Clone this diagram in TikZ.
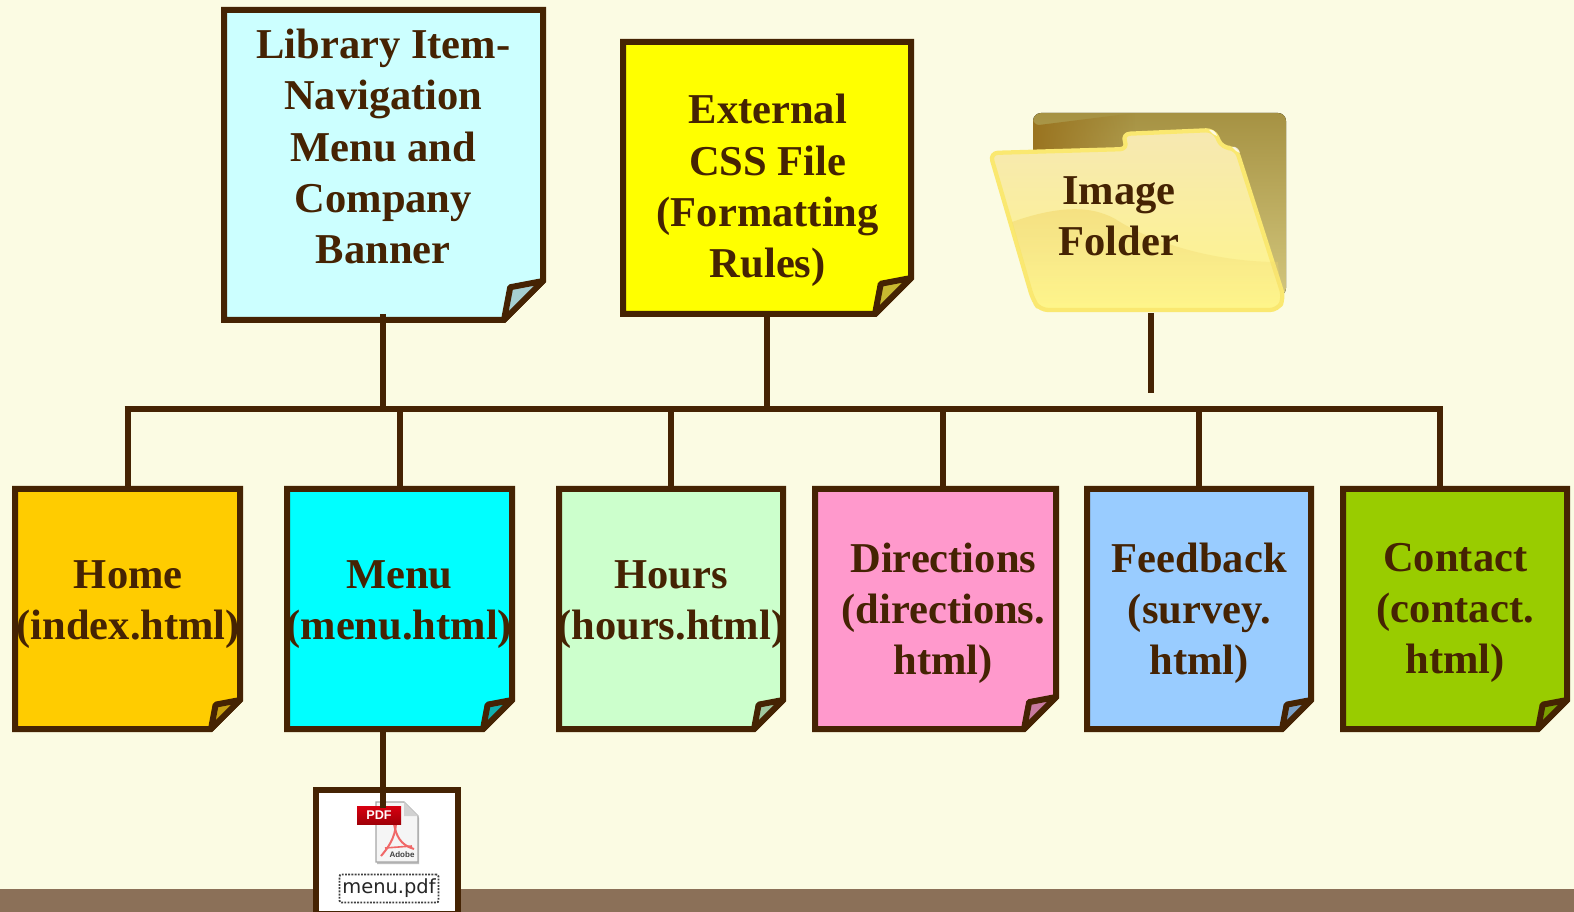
\documentclass[tikz,border=0pt]{standalone}
\usepackage{fontspec}
\setmainfont{Liberation Serif}
\setsansfont{Liberation Sans}
\newfontfamily\iconfont{DejaVu Sans}
\usetikzlibrary{fadings}
\definecolor{ink}{HTML}{452303}
\definecolor{pagebg}{HTML}{FBFBE3}
\definecolor{band}{HTML}{8B7058}
\definecolor{backtop}{HTML}{A69243}
\definecolor{backbot}{HTML}{D2C67C}
\definecolor{backdark}{HTML}{9A7420}
\definecolor{fronttop}{HTML}{F6E8B2}
\definecolor{wavetop}{HTML}{F2DA70}
\definecolor{frontbot}{HTML}{FFF68A}
\definecolor{rim}{HTML}{FAE870}
\definecolor{libfill}{HTML}{CCFFFF}
\definecolor{libfold}{HTML}{A6D0D2}
\definecolor{cssfill}{HTML}{FFFF00}
\definecolor{cssfold}{HTML}{C8B830}
\definecolor{homefill}{HTML}{FFCC00}
\definecolor{homefold}{HTML}{C8A010}
\definecolor{menufill}{HTML}{00FFFF}
\definecolor{menufold}{HTML}{10B0B0}
\definecolor{hoursfill}{HTML}{CCFFCC}
\definecolor{hoursfold}{HTML}{A0C8A0}
\definecolor{dirfill}{HTML}{FF99CC}
\definecolor{dirfold}{HTML}{C87AA0}
\definecolor{feedfill}{HTML}{99CCFF}
\definecolor{feedfold}{HTML}{7AA0C8}
\definecolor{contfill}{HTML}{99CC00}
\definecolor{contfold}{HTML}{7AA000}
\definecolor{pdfred}{HTML}{D80010}
\definecolor{pdfdark}{HTML}{A00008}
\definecolor{pdflogo}{HTML}{F06868}
\newcommand\notebox[8]{% name,x1,y1,x2,y2,fill,foldfill,foldsize
  \node[notearea,minimum width={(#4-#2)*0.75pt},minimum height={(#5-#3)*0.75pt}] (#1) at ({(#2+#4)/2},{(#3+#5)/2}) {};
  \draw[noteline,fill=#6] (#2,#3) -- (#4,#3) -- (#4,{#5-#8}) -- ({#4-#8},#5) -- (#2,#5) -- cycle;
  \draw[noteline,line join=round,fill=#7] (#4,{#5-#8}) -- ({#4-#8},#5) -- ({#4-0.84*#8},{#5-0.84*#8}) -- cycle;
}
\tikzset{
  notearea/.style={inner sep=0pt,outer sep=0pt},
  noteline/.style={draw=ink,line width=4.5pt,line join=miter},
  link/.style={draw=ink,line width=4.5pt},
  notetext/.style={text=ink,align=center,inner sep=0pt,xshift=0.6pt,font=\fontsize{31.9}{38.4}\selectfont\bfseries},
}
\begin{document}
\begin{tikzpicture}[x=0.75pt,y=-0.75pt]
\useasboundingbox (0,0) rectangle (1574,912);
\fill[pagebg] (0,0) rectangle (1574,912);
\fill[band] (0,889) rectangle (1574,912);

% folder
\fill[top color=backtop,bottom color=backbot,rounded corners=6pt] (1033,113) rectangle (1286,296);
\fill[backdark,path fading=east] (1033,119) arc[start angle=180,end angle=90,radius=6] -- (1135,113) -- (1135,160) -- (1033,160) -- cycle;
\draw[rim,line width=3.2pt,top color=fronttop,bottom color=frontbot,rounded corners=6pt,line join=round]
  (990,153) -- (1128,149) -- (1122,134) -- (1214,130) -- (1222,148) -- (1236,148) -- (1284,298)
  -- (1278,310) -- (1040,310) -- (1033,300) -- cycle;
\fill[wavetop,opacity=0.65,path fading=south] (1012,222) .. controls (1060,205) and (1095,205) .. (1120,222)
  .. controls (1160,246) and (1220,262) .. (1278,262) -- (1281,298) -- (1277,308) -- (1041,308) -- (1035,299) -- cycle;
\fill[white,opacity=0.8] (1209,130) .. controls (1213,129) and (1216,132) .. (1217,136) -- (1213,134) -- cycle;
\fill[white,opacity=0.8] (1232,147) .. controls (1236,146) and (1239,149) .. (1240,153) -- (1236,151) -- cycle;
\node[notetext] (foldertext) at (1118,216) {Image\\Folder};
\coordinate (foldertop) at (1151,313);
\coordinate (folderend) at (1151,393);

% notes
\notebox{lib}{224}{10}{543}{320}{libfill}{libfold}{39}
\notebox{css}{623}{42}{911}{314}{cssfill}{cssfold}{36}
\notebox{home}{15}{489}{240}{729}{homefill}{homefold}{29}
\notebox{menu}{287}{489}{512}{729}{menufill}{menufold}{29}
\notebox{hours}{559}{489}{783}{729}{hoursfill}{hoursfold}{29}
\notebox{dir}{815}{489}{1056}{729}{dirfill}{dirfold}{32}
\notebox{feed}{1087}{489}{1311}{729}{feedfill}{feedfold}{29}
\notebox{cont}{1343}{489}{1567}{729}{contfill}{contfold}{29}

\node[notetext] (libtext) at (382.5,146.5) {Library Item-\\Navigation\\Menu and\\Company\\Banner};
\node[notetext] (csstext) at (767,190.5) {External\\CSS File\\(Formatting\\Rules)};
\node[notetext] (hometext) at (127.5,605) {Home\\(index.html)};
\node[notetext] (menutext) at (398.5,605) {Menu\\(menu.html)};
\node[notetext] (hourstext) at (670.5,605) {Hours\\(hours.html)};
\node[notetext] (dirtext) at (942.5,613) {Directions\\(directions.\\html)};
\node[notetext] (feedtext) at (1198.5,613) {Feedback\\(survey.\\html)};
\node[notetext] (conttext) at (1454.5,613) {Contact\\(contact.\\html)};

% trunk and connectors
\coordinate (trunkL) at (124.5,409.5);
\coordinate (trunkR) at (1439.5,409.5);
\coordinate (libstub) at (382.5,314);
\coordinate (dirdrop) at (942.5,489);
\coordinate (contdrop) at (1439.5,489);
\coordinate (menuout) at (383,729);
\draw[link] (trunkL) -- (trunkR);
\draw[link] (libstub) -- (libstub|-trunkL);
\draw[link] (css.south) -- (css.south|-trunkL);
\draw[link] (home.north) -- (home.north|-trunkL);
\draw[link] (menu.north) -- (menu.north|-trunkL);
\draw[link] (hours.north) -- (hours.north|-trunkL);
\draw[link] (dirdrop) -- (dirdrop|-trunkL);
\draw[link] (feed.north) -- (feed.north|-trunkL);
\draw[link] (contdrop) -- ([yshift=2.25pt]contdrop|-trunkL);
\draw[link,line width=4.3pt] (foldertop) -- (folderend);

% pdf box
\node[notearea,minimum width={139*0.75pt},minimum height={124*0.75pt}] (pdfbox) at (387,852) {};
\draw[noteline,fill=white] (316,915) -- (316,790) -- (458,790) -- (458,915);
\draw[noteline] (316,914) -- (458,914);
% icon
\fill[black!25] (377,804) -- (405,804) -- (419,818) -- (419,864) -- (377,864) -- cycle;
\draw[black!35,fill=white!96!black,line width=0.8pt] (376,802) -- (404,802) -- (418,816) -- (418,862) -- (376,862) -- cycle;
\fill[black!18] (404,802) -- (418,816) -- (404,816) -- cycle;
\draw[pdflogo,line width=1.5pt] (394,824) .. controls (396,835) and (400,845) .. (414,849);
\draw[pdflogo,line width=1.5pt] (396,824) .. controls (395,838) and (388,848) .. (381,856);
\draw[pdflogo,line width=1.2pt] (385,848) -- (412,846);
\node[inner sep=0pt,font=\sffamily\bfseries\fontsize{6}{6}\selectfont,text=black!75] (adobe) at (402,855) {Adobe};
\node[top color=pdfred,bottom color=pdfdark,minimum width={44*0.75pt},minimum height={18*0.75pt},inner sep=0pt,font=\sffamily\bfseries\fontsize{9.5}{10}\selectfont,text=white!90!pink] (pdfbadge) at (379,815) {PDF};
\node[draw=black!75,densely dotted,line width=1.4pt,rounded corners=1.5pt,minimum width={99*0.75pt},minimum height={28*0.75pt},inner sep=0pt,font=\iconfont\fontsize{14.6}{16}\selectfont,text=black!85] (pdfname) at (389,888.5) {menu.pdf};
\draw[link] (menuout) -- (menuout|-pdfbadge.north) -- ++(0,2);
\end{tikzpicture}
\end{document}
